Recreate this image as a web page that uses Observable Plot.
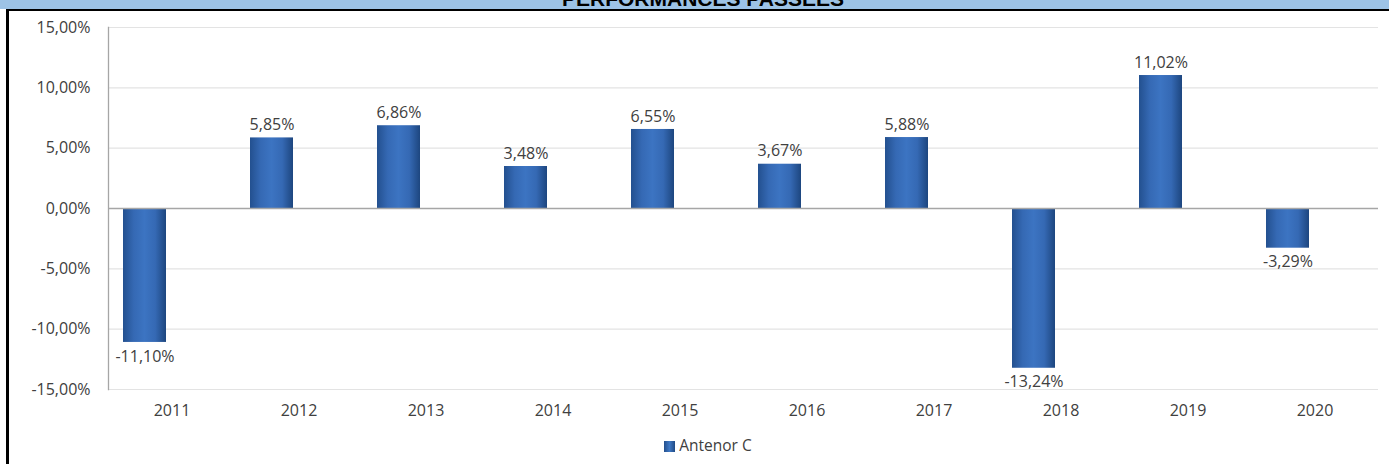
<!DOCTYPE html>
<html>
<head>
<meta charset="utf-8">
<script src="https://cdn.jsdelivr.net/npm/d3@7"></script>
<script src="https://cdn.jsdelivr.net/npm/@observablehq/plot@0.6"></script>
<style>
  html, body { margin: 0; padding: 0; background: #fff; }
  body { width: 1389px; height: 464px; position: relative; overflow: hidden; font-family: "Open Sans", sans-serif; }
  #banner { position: absolute; left: 0; top: 0; width: 1389px; height: 9px; background: #9dc3e6; overflow: hidden; }
  #banner span { position: absolute; left: 0; width: 1406px; text-align: center; top: -12px; font: bold 21px/21px "Liberation Sans", Arial, sans-serif; color: #000; white-space: nowrap; }
  #frame { position: absolute; left: 6px; top: 9px; width: 1400px; height: 470px; border-top: 2px solid #000; border-left: 3px solid #000; box-sizing: border-box; }
  #chart { position: absolute; left: 0; top: 0; }
  #legend { position: absolute; top: 436px; left: 0; width: 1416px; text-align: center; font-size: 15.5px; color: #404040; line-height: 18px; }
  #legend i { display: inline-block; width: 11px; height: 11px; margin-right: 4px; vertical-align: -1px; background: linear-gradient(90deg, #244f8c, #3f78c4 50%, #1f4a85); }
</style>
</head>
<body>
<div id="banner"><span>PERFORMANCES PASSÉES</span></div>
<div id="frame"></div>
<div id="chart"></div>
<div id="legend"><i></i>Antenor C</div>
<script>
const years = ["2011", "2012", "2013", "2014", "2015", "2016", "2017", "2018", "2019", "2020"];
const returns = [-11.10, 5.85, 6.86, 3.48, 6.55, 3.67, 5.88, -13.24, 11.02, -3.29];
const yTicks = [-15, -10, -5, 0, 5, 10, 15];
const seriesName = "Antenor C";

const data = years.map((year, i) => ({ year, value: returns[i] }));
const fmt = v => v.toFixed(2).replace(".", ",") + "%";

const plot = Plot.plot({
  width: 1389,
  height: 425,
  marginTop: 27,
  marginBottom: 36,
  marginLeft: 108,
  marginRight: 11,
  style: { fontFamily: "Open Sans, sans-serif", fontSize: "16px", color: "#404040", background: "transparent" },
  x: { domain: years, padding: 0, label: null },
  y: { domain: [-15, 15], label: null },
  marks: [
    Plot.gridY(yTicks, { stroke: "#e3e3e3", strokeOpacity: 1, strokeWidth: 1.2 }),
    Plot.frame({ anchor: "left", stroke: "#a6a6a6", strokeWidth: 1.3 }),
    Plot.barY(data, { x: "year", y: "value", fill: "url(#barGrad)", insetLeft: 15, insetRight: 69 }),
    Plot.ruleY([0], { stroke: "#a6a6a6", strokeWidth: 1.3 }),
    Plot.text(data.filter(d => d.value >= 0), { x: "year", y: "value", text: d => fmt(d.value), dx: -27, dy: -13, fill: "#404040" }),
    Plot.text(data.filter(d => d.value < 0), { x: "year", y: "value", text: d => fmt(d.value), dx: -27, dy: 14, fill: "#404040" }),
    Plot.axisY(yTicks, { tickSize: 0, tickPadding: 18, tickFormat: v => fmt(v), fill: "#404040", label: null }),
    Plot.axisX({ tickSize: 0, tickPadding: 15, fill: "#404040", label: null })
  ]
});

const ns = "http://www.w3.org/2000/svg";
const defs = document.createElementNS(ns, "defs");
defs.innerHTML = `<linearGradient id="barGrad" x1="0" x2="1" y1="0" y2="0">
  <stop offset="0" stop-color="#23508f"/>
  <stop offset="0.25" stop-color="#3569b4"/>
  <stop offset="0.5" stop-color="#3c74c2"/>
  <stop offset="0.75" stop-color="#3569b4"/>
  <stop offset="1" stop-color="#1d467f"/>
</linearGradient>`;
plot.insertBefore(defs, plot.firstChild);
document.getElementById("chart").appendChild(plot);
</script>
</body>
</html>
